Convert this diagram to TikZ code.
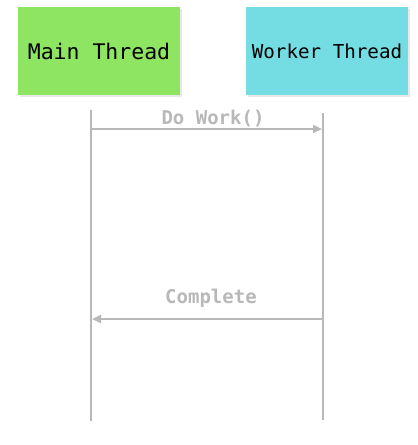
\documentclass[tikz,border=0pt]{standalone}
\usepackage{fontspec}
\setmonofont{DejaVu Sans Mono}
\usetikzlibrary{arrows.meta}
\definecolor{mgreen}{HTML}{8EE562}
\definecolor{wcyan}{HTML}{74DDE4}
\definecolor{lgray}{HTML}{B8B8B8}
\definecolor{shgray}{HTML}{E8E8E8}
\tikzset{
  threadbox/.style={minimum width=162pt, minimum height=88pt, inner sep=0pt, font=\ttfamily},
  lifeline/.style={draw=lgray, line width=2.2pt},
  msg/.style={draw=lgray, line width=2.2pt, -{Triangle[length=9pt,width=8pt]}},
  msglabel/.style={text=lgray, font=\ttfamily\bfseries\fontsize{19}{21}\selectfont, inner sep=0pt}
}
\begin{document}
\begin{tikzpicture}[x=1pt,y=-1pt]
\useasboundingbox (0,0) rectangle (418,445);
% box shadows
\fill[shgray] (20,9) rectangle (182,97);
\fill[shgray] (248,9) rectangle (410,97);
\node[threadbox, fill=mgreen, font=\ttfamily\fontsize{21.5}{24}\selectfont] (main) at (99,51) {Main Thread};
\node[threadbox, fill=wcyan, font=\ttfamily\fontsize{19.2}{22}\selectfont] (worker) at (327,51) {Worker Thread};
% lifelines
\coordinate (mtop) at (91,110);
\coordinate (mbot) at (91,421);
\coordinate (wtop) at (323,113);
\coordinate (wbot) at (323,420);
\draw[lifeline] (mtop) -- (mbot);
\draw[lifeline] (wtop) -- (wbot);
% messages
\coordinate (m1s) at (91,129);
\coordinate (m1e) at (322,129);
\coordinate (m2s) at (323,319);
\coordinate (m2e) at (92,319);
\draw[msg] (m1s) -- (m1e);
\draw[msg] (m2s) -- (m2e);
\node[msglabel] (l1) at (213,119) {Do Work()};
\node[msglabel] (l2) at (211,298) {Complete};
\end{tikzpicture}
\end{document}
